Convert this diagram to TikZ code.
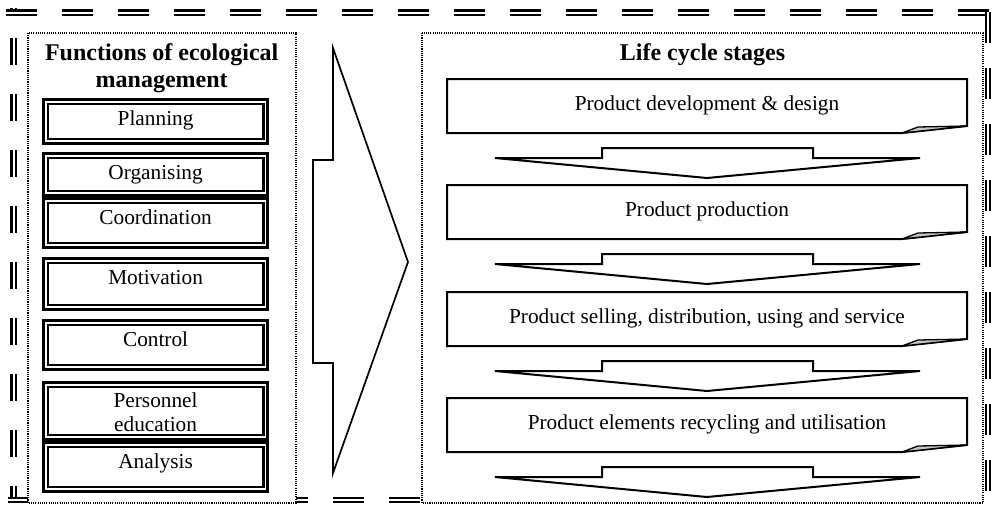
\documentclass[tikz,border=0pt]{standalone}
\usepackage{fontspec}
\setmainfont{Liberation Serif}
\begin{document}
\begin{tikzpicture}[x=1pt,y=-1pt,
  border/.style={draw=black, line width=2.1pt, double=white, double distance=2pt,
                 dash pattern=on 31pt off 25pt},
  frame/.style={draw=black, fill=white, line width=1.1pt, dash pattern=on 1.1pt off 1.1pt},
  fnouter/.style={draw=black, line width=3pt},
  fninner/.style={draw=black, line width=2.2pt},
  stageln/.style={draw=black, line width=2pt, line join=miter},
  foldln/.style={draw=black, fill=gray!45, line width=1.3pt, line join=round},
  arrowln/.style={draw=black, fill=white, line width=2pt, line join=miter},
  bigarrow/.style={draw=black, fill=white, line width=1.7pt, line join=miter},
  bodytext/.style={inner sep=0pt, anchor=base, font=\fontsize{21.3pt}{24pt}\selectfont},
  titletext/.style={inner sep=0pt, anchor=base, font=\fontsize{24pt}{27pt}\selectfont\bfseries}]

\useasboundingbox (0,0) rectangle (992,507);

% outer double dashed border, one side at a time
\draw[border] (6,12.5) -- (990,12.5);
\draw[border] (988,12) -- (988,500);
\draw[border, dash pattern=on 27pt off 29pt, dash phase=26pt] (13.5,8) -- (13.5,503);
\draw[border, dash phase=11pt] (8,500) -- (990,500);

% dotted panels
\path[frame] (28,33) rectangle (296,503);
\path[frame] (422,33) rectangle (983,503);

% left panel: title and function boxes
\node[titletext] (fntitleA) at (161.7,60) {Functions of ecological};
\node[titletext] (fntitleB) at (161.7,87) {management};

\foreach \t/\b/\txt/\nm in {98/145/Planning/plan, 152/197/Organising/org,
    197/249/Coordination/coord, 257/311/Motivation/motiv, 319/371/Control/ctrl,
    441/493/Analysis/anal} {
  \draw[fnouter] (43.5,\t+1.5) rectangle (267.8,\b-1.5);
  \draw[fninner] (47.9,\t+5.9) rectangle (263.4,\b-5.9);
  \node[bodytext] (\nm) at (155.6,\t+27.5) {\txt};
}
\draw[fnouter] (43.5,382.5) rectangle (267.8,439.5);
\draw[fninner] (47.9,386.9) rectangle (263.4,435.1);
\node[bodytext] (persA) at (155.6,407) {Personnel};
\node[bodytext] (persB) at (155.6,431) {education};

% big arrow between the panels
\path[bigarrow] (333,48) -- (408,262) -- (333,473) -- (333,363) -- (313,363)
  -- (313,160) -- (333,160) -- cycle;

% right panel: title, stages and downward arrows
\node[titletext] (lctitle) at (702.5,60) {Life cycle stages};

\foreach \t/\txt/\nm in {79/Product development \& design/stA,
    185/Product production/stB,
    292/{Product selling, distribution, using and service}/stC,
    398/Product elements recycling and utilisation/stD} {
  \path[stageln] (447,\t) -- (967,\t) -- (967,\t+47) -- (902,\t+54) -- (447,\t+54) -- cycle;
  \path[foldln] (902,\t+54) -- (918,\t+48) -- (967,\t+47) -- cycle;
  \node[bodytext] (\nm) at (707,\t+31) {\txt};
  \path[arrowln] (495,\t+79) -- (602,\t+79) -- (602,\t+69) -- (813,\t+69)
    -- (813,\t+79) -- (920,\t+79) -- (707,\t+99) -- cycle;
}

\end{tikzpicture}
\end{document}
